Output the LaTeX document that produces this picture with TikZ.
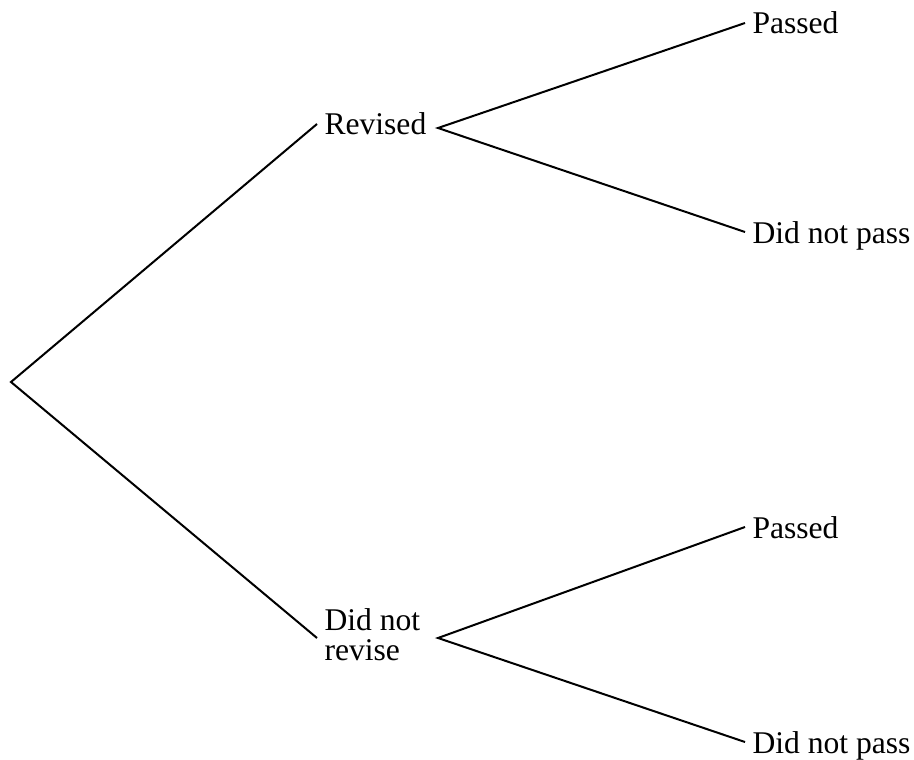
\documentclass[tikz,border=0pt]{standalone}
\usepackage{fontspec}
\setmainfont{Liberation Serif}
\begin{document}
\begin{tikzpicture}[x=1pt,y=-1pt,
  lab/.style={inner sep=0pt, outer xsep=7.5pt, outer ysep=0pt, text height=22pt, text depth=0pt, font=\fontsize{31.6}{30}\selectfont},
  branch/.style={line width=2pt, line join=miter}]
\useasboundingbox (0,0) rectangle (914,760);
\coordinate (root) at (11,382);
\coordinate (rv) at (438,128);
\coordinate (dv) at (438,638);
\node[lab, anchor=west] (rev) at (317,124) {Revised};
\node[lab, anchor=west, align=left, text height=52pt, text depth=8pt] (drev) at (317,638) {Did not\\revise};
\node[lab, anchor=west] (p1) at (745,23) {Passed};
\node[lab, anchor=west] (f1) at (745,232) {Did not pass};
\node[lab, anchor=west] (p2) at (745,527) {Passed};
\node[lab, anchor=west] (f2) at (745,742) {Did not pass};
\draw[branch] (rev.west) -- (root) -- (drev.west);
\draw[branch] (p1.west) -- (rv) -- (f1.west);
\draw[branch] (p2.west) -- (dv) -- (f2.west);
\end{tikzpicture}
\end{document}
